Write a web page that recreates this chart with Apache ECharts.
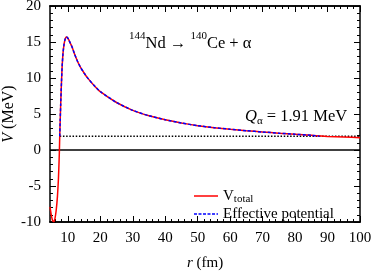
<!DOCTYPE html>
<html><head><meta charset="utf-8">
<script src="https://cdn.jsdelivr.net/npm/echarts@6/dist/echarts.min.js"></script>
<style>html,body{margin:0;padding:0;background:#fff}#c{width:374px;height:271px}</style>
</head><body><div id="c"></div>
<script>
// Data
const rTotal = [4.5, 5.0, 5.4, 5.7, 6.0, 6.4, 6.8, 7.1, 7.3, 7.4, 7.5, 7.65, 7.8, 8.0, 8.25, 8.5, 8.8, 9.1, 9.4, 9.6, 9.9, 10.3, 10.8, 11.3, 12, 13, 14, 15, 16, 18, 20, 25, 30, 35, 40, 45, 50, 55, 60, 65, 70, 75, 80, 85, 88, 90, 95, 100];
const vTotal = [-7.9, -9.3, -9.9, -9.95, -9.6, -8.4, -6.4, -4.0, -1.5, 0, 1.91, 4.2, 6.4, 9.0, 11.7, 13.4, 14.6, 15.3, 15.65, 15.7, 15.6, 15.3, 14.8, 14.3, 13.4, 12.3, 11.4, 10.7, 10.05, 9.0, 8.1, 6.6, 5.5, 4.75, 4.2, 3.75, 3.38, 3.1, 2.88, 2.68, 2.5, 2.34, 2.19, 2.04, 1.95, 1.89, 1.8, 1.71];
const rEff = [7.5, 7.65, 7.8, 8.0, 8.25, 8.5, 8.8, 9.1, 9.4, 9.6, 9.9, 10.3, 10.8, 11.3, 12, 13, 14, 15, 16, 18, 20, 25, 30, 35, 40, 45, 50, 55, 60, 65, 70, 75, 80, 85, 87.5];
const vEff = [1.91, 4.2, 6.4, 9.0, 11.7, 13.4, 14.6, 15.3, 15.65, 15.7, 15.6, 15.3, 14.8, 14.3, 13.4, 12.3, 11.4, 10.7, 10.05, 9.0, 8.1, 6.6, 5.5, 4.75, 4.2, 3.75, 3.38, 3.1, 2.88, 2.68, 2.5, 2.34, 2.19, 2.04, 1.91];
const qValue = 1.91;
const qRange = [7.5, 100];
const zeroRange = [4.5, 100];
const xMajorTicks = [10, 20, 30, 40, 50, 60, 70, 80, 90, 100];
const xMinorTicks = [6, 8, 12, 14, 16, 18, 22, 24, 26, 28, 32, 34, 36, 38, 42, 44, 46, 48, 52, 54, 56, 58, 62, 64, 66, 68, 72, 74, 76, 78, 82, 84, 86, 88, 92, 94, 96, 98];

const FONT = 'Liberation Serif';
const zip = (a, b) => a.map((v, i) => [v, b[i]]);

const chart = echarts.init(document.getElementById('c'), null, {renderer: 'canvas'});
const X_MIN = 4.5, X_MAX = 100;
function xAx(pos, labels, ticks, len) {
  return {
    type: 'value', min: X_MIN, max: X_MAX, position: pos, gridIndex: 0,
    axisLine: {show: true, onZero: false, lineStyle: {color: '#000', width: 1.5}},
    axisTick: {show: true, inside: true, length: len, customValues: ticks, lineStyle: {color: '#000', width: 1}},
    axisLabel: {show: labels, customValues: xMajorTicks, color: '#000', fontFamily: FONT, fontSize: 15, margin: 9},
    splitLine: {show: false},
    name: labels ? '{i|r} (fm)' : '', nameLocation: 'middle', nameGap: 34, nameMoveOverlap: false,
    nameTextStyle: {color: '#000', fontFamily: FONT, fontSize: 15, rich: {i: {fontStyle: 'italic', fontFamily: FONT, fontSize: 15, color: '#000'}}}
  };
}
function yAx(pos, labels) {
  return {
    type: 'value', min: -10, max: 20, interval: 5, position: pos,
    axisLine: {show: true, onZero: false, lineStyle: {color: '#000', width: 1.5}},
    axisTick: {show: true, inside: true, length: 6, lineStyle: {color: '#000', width: 1}},
    minorTick: {show: true, splitNumber: 5, length: 3, lineStyle: {color: '#000', width: 1}},
    axisLabel: {show: labels, color: '#000', fontFamily: FONT, fontSize: 15, margin: 9},
    splitLine: {show: false},
    name: labels ? '{i|V} (MeV)' : '', nameLocation: 'middle', nameGap: 33, nameRotate: 90, nameMoveOverlap: false,
    nameTextStyle: {color: '#000', fontFamily: FONT, fontSize: 16, rich: {i: {fontStyle: 'italic', fontFamily: FONT, fontSize: 16, color: '#000'}}}
  };
}

chart.setOption({
  animation: false,
  grid: {left: 50, right: 14, top: 6, bottom: 49, containLabel: false, outerBoundsMode: 'none'},
  xAxis: [
    xAx('bottom', true, xMinorTicks, 3),
    xAx('bottom', false, xMajorTicks, 6),
    xAx('top', false, xMinorTicks, 3),
    xAx('top', false, xMajorTicks, 6)
  ],
  yAxis: [yAx('left', true), yAx('right', false)],
  legend: {
    orient: 'vertical', left: 189, top: 182, itemWidth: 24, itemHeight: 1.5, itemGap: 0,
    symbolKeepAspect: false,
    data: [
      {name: 'V_total', icon: 'rect'},
      {name: 'Effective potential', icon: 'path://M0,0h3v1h-3z M4.5,0h3v1h-3z M9,0h3v1h-3z M13.5,0h3v1h-3z M18,0h3v1h-3z M22.5,0h1.5v1h-1.5z'}
    ],
    textStyle: {color: '#000', fontFamily: FONT, fontSize: 15, lineHeight: 18,
      rich: {m: {fontFamily: FONT, fontSize: 15, color: '#000', lineHeight: 18},
             s: {fontFamily: FONT, fontSize: 11, color: '#000', verticalAlign: 'bottom', lineHeight: 11}}},
    formatter: n => n === 'V_total' ? '{m|V}{s|total}' : n
  },
  graphic: [
    {type: 'text', left: 129, top: 31, style: {
      text: '{s|144}{m|Nd → }{s|140}{m|Ce + α}', fontFamily: FONT,
      rich: {m: {fontFamily: FONT, fontSize: 16.5, color: '#000', lineHeight: 21, verticalAlign: 'bottom'},
             s: {fontFamily: FONT, fontSize: 11, color: '#000', verticalAlign: 'top', lineHeight: 12}}}},
    {type: 'text', left: 245, top: 108, style: {
      text: '{q|Q}{s|α}{m| = 1.91 MeV}', fontFamily: FONT,
      rich: {q: {fontFamily: FONT, fontStyle: 'italic', fontSize: 16.5, color: '#000', lineHeight: 19, verticalAlign: 'top'},
             m: {fontFamily: FONT, fontSize: 16.5, color: '#000', lineHeight: 19, verticalAlign: 'top'},
             s: {fontFamily: FONT, fontSize: 11, color: '#000', verticalAlign: 'bottom', lineHeight: 12}}}}
  ],
  series: [
    {name: 'zero', type: 'line', symbol: 'none', data: zeroRange.map(x => [x, 0]),
     lineStyle: {color: '#000', width: 1.5}, silent: true, z: 1},
    {name: 'Q', type: 'line', symbol: 'none', data: qRange.map(x => [x, qValue]),
     lineStyle: {color: '#000', width: 1.3, type: [1.5, 1.7]}, silent: true, z: 1},
    {name: 'V_total', type: 'line', symbol: 'none', data: zip(rTotal, vTotal), smooth: 0.15,
     lineStyle: {color: '#ff0000', width: 1.5}, itemStyle: {color: '#ff0000'}, z: 2},
    {name: 'Effective potential', type: 'line', symbol: 'none', data: zip(rEff, vEff), smooth: 0.15,
     lineStyle: {color: '#0000ff', width: 1.5, type: [3, 2]}, itemStyle: {color: '#0000ff'}, z: 3}
  ]
});
</script></body></html>
